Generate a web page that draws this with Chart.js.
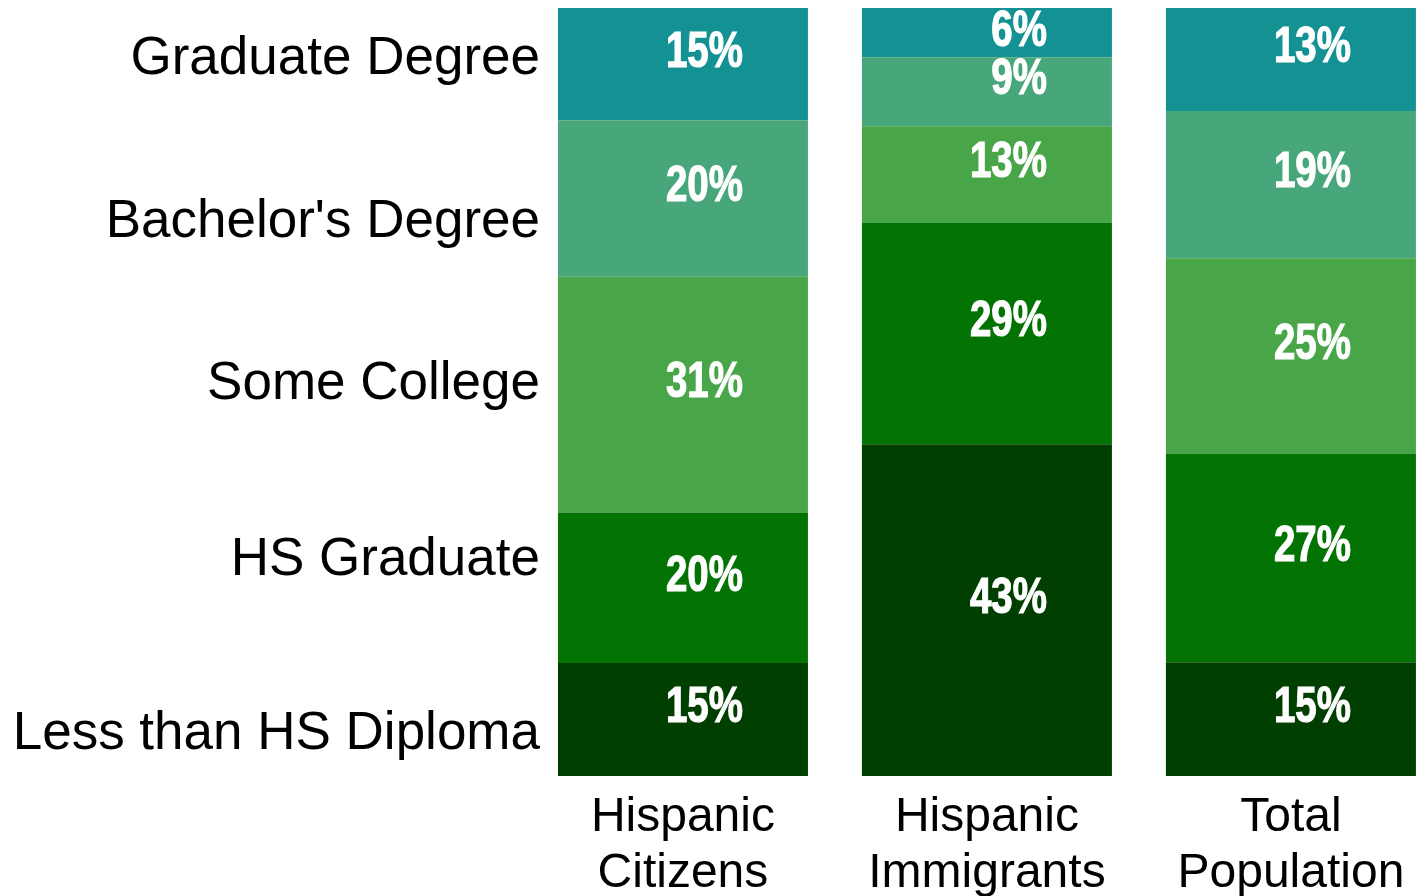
<!DOCTYPE html>
<html>
<head>
<meta charset="utf-8">
<script src="https://cdn.jsdelivr.net/npm/chart.js@4.4.1/dist/chart.umd.min.js"></script>
<style>
  html, body { margin: 0; padding: 0; background: #fff; overflow: hidden; }
  #wrap { position: relative; width: 1425px; height: 896px; }
</style>
</head>
<body>
<div id="wrap"><canvas id="myChart"></canvas></div>
<script>
// groups on the x axis (two-line labels)
const groups = [['Hispanic', 'Citizens'], ['Hispanic', 'Immigrants'], ['Total', 'Population']];
// education levels, bottom of the stack first
const levels = ['Less than HS Diploma', 'HS Graduate', 'Some College', "Bachelor's Degree", 'Graduate Degree'];
// shares in percent
const citizens = [14.7, 19.6, 30.7, 20.4, 14.6];
const immigrants = [43.2, 28.8, 12.6, 9.0, 6.4];
const totalPop = [14.8, 27.2, 25.4, 19.2, 13.4];
// where the level names sit on the y axis
const levelTicks = [5.4, 28.1, 51.0, 72.1, 93.3];

const colors = ['#003f00', '#037303', '#48a548', '#48a77a', '#149192'];

// white bold condensed percent labels inside the bars
const barLabels = {
  id: 'barLabels',
  afterDatasetsDraw(chart) {
    const c = chart.ctx;
    const squeeze = 0.77;
    const top = chart.chartArea.top;
    chart.data.datasets.forEach((ds, i) => {
      chart.getDatasetMeta(i).data.forEach((bar, j) => {
        const mid = (bar.y + bar.base) / 2;
        const ty = Math.max(mid - 11, top + 24); // keep thin top segments' labels inside
        const txt = Math.round(ds.data[j]) + '%';
        c.save();
        c.translate(bar.x + 60, ty);
        c.scale(squeeze, 1);
        c.fillStyle = '#ffffff';
        c.strokeStyle = '#ffffff';
        c.lineWidth = 1.2;
        c.font = "bold 50px 'Liberation Sans', Arial, sans-serif";
        c.textAlign = 'right';
        c.textBaseline = 'middle';
        c.fillText(txt, 0, 0);
        c.strokeText(txt, 0, 0);
        c.restore();
      });
    });
  }
};

const ctx = document.getElementById('myChart');
new Chart(ctx, {
  type: 'bar',
  data: {
    labels: groups.map((g, i) => i),
    datasets: levels.map((lv, i) => ({
      label: lv,
      data: [citizens[i], immigrants[i], totalPop[i]],
      backgroundColor: colors[i],
      borderWidth: 0,
      barPercentage: 0.8224,
      categoryPercentage: 1
    }))
  },
  options: {
    responsive: true,
    maintainAspectRatio: false,
    animation: false,
    layout: { padding: { top: 8, left: 0, right: 0, bottom: 0 } },
    plugins: { legend: { display: false }, tooltip: { enabled: false } },
    scales: {
      x: {
        type: 'linear',
        stacked: true,
        offset: false,
        min: -0.411,
        max: 2.441,
        grid: { display: false, drawTicks: false, offset: false },
        border: { display: false },
        afterBuildTicks: s => { s.ticks = groups.map((g, i) => ({ value: i })); },
        afterFit: s => { s.height = 120; s.paddingLeft = 0; s.paddingRight = 0; },
        ticks: {
          padding: 14,
          color: '#000',
          font: { family: "'Liberation Sans', Arial, sans-serif", size: 48, lineHeight: 1.167 },
          callback: (v) => groups[v]
        }
      },
      y: {
        stacked: true,
        min: 0,
        max: 100,
        grid: { display: false, drawTicks: false },
        border: { display: false },
        afterBuildTicks: s => { s.ticks = levelTicks.map(v => ({ value: v })); },
        afterFit: s => { s.width = 558; s.paddingTop = 0; s.paddingBottom = 0; },
        ticks: {
          padding: 18,
          color: '#000',
          font: { family: "'Liberation Sans', Arial, sans-serif", size: 53 },
          callback: (v, i) => levels[i]
        }
      }
    }
  },
  plugins: [barLabels]
});
</script>
</body>
</html>
